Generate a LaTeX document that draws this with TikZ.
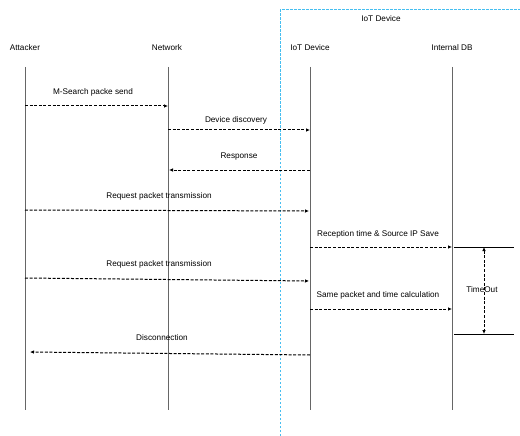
\documentclass[tikz,border=0pt]{standalone}
\usepackage{fontspec}
\setmainfont{Liberation Sans}
\usetikzlibrary{arrows.meta}
\definecolor{boxblue}{RGB}{70,190,240}
\begin{document}
\begin{tikzpicture}[x=1pt,y=-1pt,
  lbl/.style={font=\fontsize{8.2}{10}\selectfont, inner sep=0pt, anchor=center},
  life/.style={draw=black!60, line width=0.7pt},
  msg/.style={line width=1pt, dash pattern=on 3pt off 1.6pt, -{Latex[length=4pt,width=3.6pt]}},
  tbar/.style={line width=1pt},
  frame/.style={draw=boxblue, line width=1pt, dash pattern=on 2.5pt off 1.5pt}]
\useasboundingbox (0,0) rectangle (520,436);
% frame
\coordinate (fb) at (280,436);
\coordinate (ft) at (280,10);
\coordinate (fr) at (520,10);
\draw[frame] (fb) -- (ft) -- (fr);
\node[lbl] (frameT) at (381,19) {IoT Device};
% headers
\node[lbl] (att) at (25,48) {Attacker};
\node[lbl] (net) at (167,48) {Network};
\node[lbl] (iot) at (310,48) {IoT Device};
\node[lbl] (db) at (452,48) {Internal DB};
% lifelines
\coordinate (attT) at (25,67);  \coordinate (attB) at (25,410);
\coordinate (netT) at (168,67); \coordinate (netB) at (168,410);
\coordinate (iotT) at (310,67); \coordinate (iotB) at (310,410);
\coordinate (dbT) at (452,67);  \coordinate (dbB) at (452,410);
\draw[life] (attT) -- (attB);
\draw[life] (netT) -- (netB);
\draw[life] (iotT) -- (iotB);
\draw[life] (dbT) -- (dbB);
% messages
\coordinate (m1a) at (25,106);  \coordinate (m1b) at (168,106);
\draw[msg] (m1a) -- (m1b);
\node[lbl] (l1) at (93,92) {M-Search packe send};
\coordinate (m2a) at (168,130); \coordinate (m2b) at (310,130);
\draw[msg] (m2a) -- (m2b);
\node[lbl] (l2) at (236,120) {Device discovery};
\coordinate (m3a) at (310,170); \coordinate (m3b) at (169,170);
\draw[msg] (m3a) -- (m3b);
\node[lbl] (l3) at (239,157) {Response};
\coordinate (m4a) at (25,210);  \coordinate (m4b) at (309,211);
\draw[msg] (m4a) -- (m4b);
\node[lbl] (l4) at (159,196) {Request packet transmission};
\coordinate (m5a) at (310,247); \coordinate (m5b) at (452,247);
\draw[msg] (m5a) -- (m5b);
\node[lbl] (l5) at (378,234) {Reception time \& Source IP Save};
\coordinate (m6a) at (25,278);  \coordinate (m6b) at (309,281);
\draw[msg] (m6a) -- (m6b);
\node[lbl] (l6) at (159,264) {Request packet transmission};
\coordinate (m7a) at (310,309); \coordinate (m7b) at (452,309);
\draw[msg] (m7a) -- (m7b);
\node[lbl] (l7) at (378,295) {Same packet and time calculation};
\coordinate (m8a) at (310,355); \coordinate (m8b) at (30,352);
\draw[msg] (m8a) -- (m8b);
\node[lbl] (l8) at (162,338) {Disconnection};
% timeout
\coordinate (t1a) at (454,247); \coordinate (t1b) at (514,247);
\coordinate (t2a) at (454,334); \coordinate (t2b) at (514,334);
\draw[tbar] (t1a) -- (t1b);
\draw[tbar] (t2a) -- (t2b);
\coordinate (tu) at (484,247); \coordinate (td) at (484,334);
\draw[msg, {Latex[length=4pt,width=3.6pt]}-{Latex[length=4pt,width=3.6pt]}] (tu) -- (td);
\node[lbl] (tl) at (482,290) {TimeOut};
\end{tikzpicture}
\end{document}
